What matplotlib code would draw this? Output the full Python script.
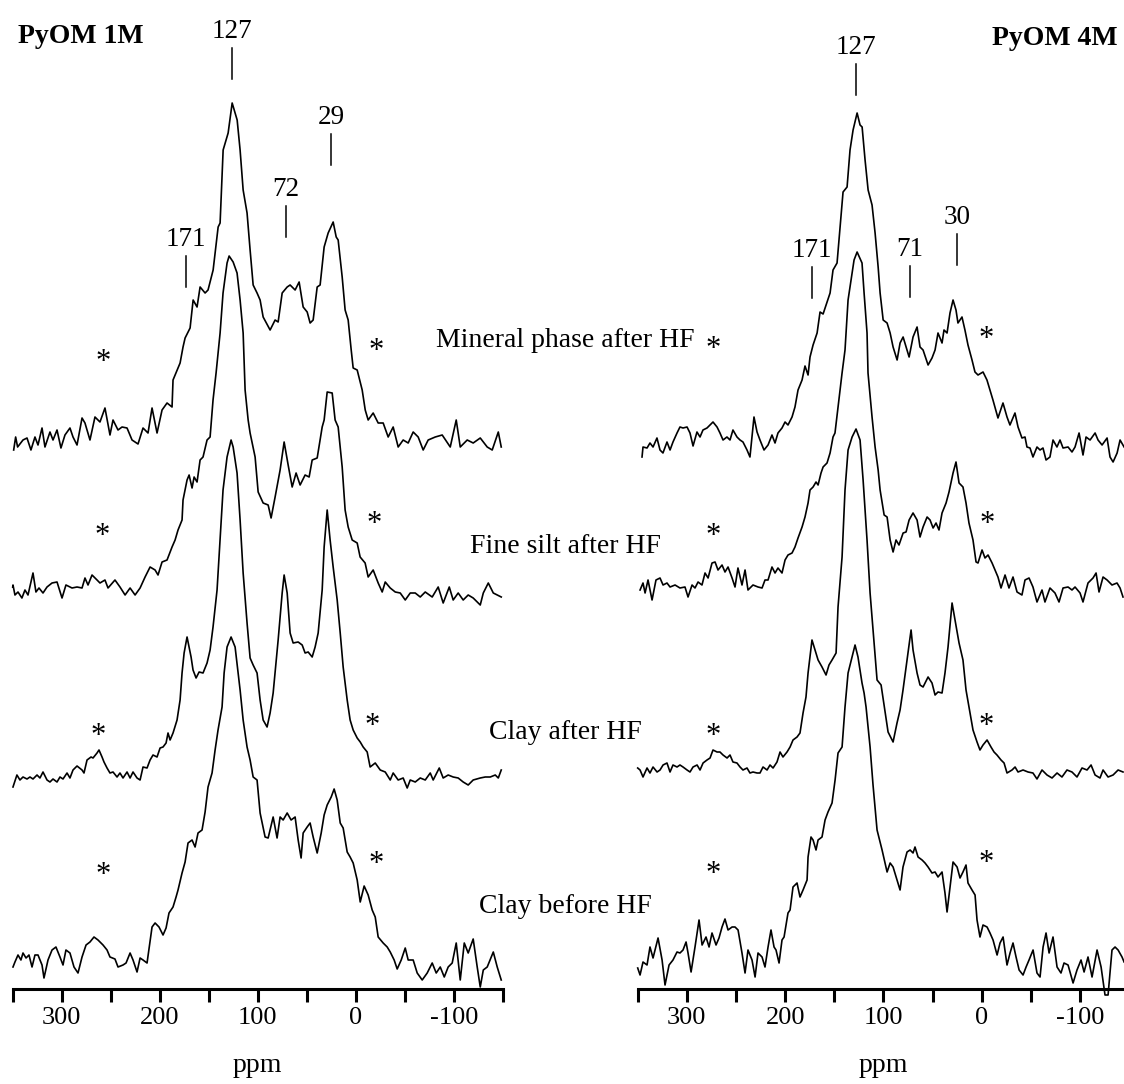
import matplotlib
matplotlib.use("Agg")
import matplotlib.pyplot as plt

plt.rcParams["font.family"] = ["Liberation Serif", "DejaVu Serif"]

# ---- 13C NMR spectra: chemical shift (ppm) and intensity (arbitrary units) ----
# PyOM 1M
ppm_1m_mineral = [349, 347, 345, 339.5, 335.4, 331.4, 327.3, 324.2, 320.1, 317.1, 312, 308.9, 304.8, 300.8, 296.7,
                  291.6, 288.5, 284.4, 279.3, 276.3, 271.2, 266.1, 261, 255.9, 250.8, 247.7, 242.6, 238.5, 233.4,
                  228.3, 222.2, 217.1, 212, 207.9, 202.8, 197.7, 192.6, 187.5, 186.5, 179.3, 176.3, 174.2, 169.1,
                  166, 162, 158.9, 153.8, 150.8, 145.6, 140.5, 138.5, 135.4, 130.3, 126.2, 121.1, 118.1, 115, 111,
                  107.9, 104.8, 100.8, 97.7, 94.6, 87.5, 82.4, 79.3, 75.2, 70.1, 67.1, 62, 57.9, 53.8, 49.7, 46.7,
                  43.6, 39.5, 36.5, 32.4, 28.3, 23.2, 20.1, 18.1, 14, 11, 7.9, 4.8, 2.8, -1.3, -6.4, -9.5, -12.5,
                  -17.6, -22.7, -27.8, -32.9, -38, -43.1, -48.2, -53.3, -58.4, -63.5, -68.6, -73.7, -80.9, -88,
                  -96.2, -102.3, -106.4, -113.5, -119.6, -126.8, -133.9, -139, -145.2, -148.2]
int_1m_mineral = [0, 13, 3, 10, 12, 0, 13, 5, 22, 3, 18, 10, 20, 2, 15, 22, 13, 5, 32, 27, 10, 33, 28, 42, 15, 30,
                  20, 23, 22, 10, 6, 22, 17, 42, 17, 40, 47, 43, 70, 87, 103, 112, 122, 150, 143, 163, 157, 160,
                  180, 223, 227, 300, 317, 347, 330, 300, 260, 237, 200, 165, 157, 150, 133, 120, 130, 128, 157,
                  163, 165, 160, 168, 143, 138, 127, 130, 163, 165, 203, 217, 228, 213, 210, 173, 140, 130, 100,
                  82, 80, 60, 40, 30, 37, 27, 27, 13, 23, 3, 10, 7, 18, 13, 0, 10, 13, 15, 3, 30, 3, 10, 7, 12, 3,
                  0, 18, 3]

ppm_1m_silt = [350, 349.7, 347.7, 344.6, 340.6, 337.5, 334.4, 329.3, 326.3, 323.2, 319.1, 315.0, 309.9, 304.8,
               299.7, 295.7, 289.5, 284.4, 279.3, 276.3, 273.2, 269.1, 264.0, 261.0, 255.9, 252.8, 245.7, 240.6,
               235.4, 230.3, 225.2, 220.1, 215.0, 209.9, 204.8, 201.8, 197.7, 192.6, 187.5, 184.4, 181.4, 177.3,
               176.3, 172.2, 170.1, 167.1, 165.0, 162.0, 158.9, 155.9, 151.8, 148.7, 145.7, 142.6, 138.5, 135.5,
               131.4, 129.3, 125.2, 121.2, 118.1, 115.0, 113.0, 109.9, 107.9, 102.8, 99.7, 94.6, 89.5, 86.5, 82.4,
               77.3, 73.2, 69.1, 65.0, 61.0, 56.9, 51.8, 47.7, 44.6, 39.5, 34.4, 32.4, 29.3, 24.2, 21.2, 18.1,
               14.0, 11.0, 7.9, 3.8, -1.3, -4.3, -9.4, -12.5, -17.6, -22.7, -26.8, -29.9, -35.0, -40.1, -45.2,
               -50.3, -55.4, -60.5, -65.6, -70.7, -77.8, -83.9, -89.0, -95.2, -99.2, -104.3, -109.4, -114.5,
               -119.6, -126.8, -129.9, -135.0, -140.1, -148.2]
int_1m_silt = [13, 15, 5, 8, 2, 10, 5, 27, 8, 12, 7, 13, 17, 18, 2, 15, 12, 13, 12, 22, 15, 25, 20, 17, 20, 12,
               20, 13, 5, 12, 5, 12, 23, 33, 30, 25, 38, 40, 53, 60, 70, 80, 100, 120, 125, 112, 123, 118, 140,
               143, 160, 163, 200, 227, 267, 307, 337, 344, 338, 327, 300, 267, 210, 180, 167, 143, 108, 97, 95,
               82, 103, 130, 158, 135, 113, 127, 115, 125, 123, 140, 142, 173, 180, 208, 207, 180, 173, 133, 90,
               73, 60, 57, 43, 37, 23, 30, 17, 8, 18, 12, 8, 7, 0, 7, 7, 3, 8, 3, 13, -3, 13, 0, 7, 0, 5, 2, -5,
               7, 17, 7, 3]

ppm_1m_clay_hf = [349.7, 345.7, 342.6, 339.5, 335.4, 332.4, 329.3, 325.2, 322.2, 319.1, 315.0, 312.0, 308.9,
                  304.8, 301.8, 298.7, 294.6, 291.6, 288.5, 284.4, 279.3, 277.3, 274.2, 270.1, 268.1, 264.0, 262.0,
                  258.9, 256.9, 253.8, 250.8, 247.7, 243.6, 240.6, 237.5, 233.4, 230.3, 227.3, 223.2, 220.1, 217.1,
                  213.0, 209.9, 206.9, 202.8, 199.7, 196.7, 193.6, 191.6, 189.5, 186.5, 182.4, 179.3, 177.3, 175.2,
                  172.2, 168.1, 166.1, 163.0, 159.9, 155.9, 151.8, 148.7, 145.7, 141.6, 138.5, 135.5, 131.4, 127.3,
                  125.2, 121.2, 118.1, 115.0, 111.0, 107.9, 104.8, 100.8, 97.7, 94.6, 90.6, 87.5, 84.4, 79.3, 75.2,
                  73.2, 70.1, 67.1, 64.0, 58.9, 54.8, 51.8, 48.7, 44.6, 41.6, 38.5, 34.4, 32.4, 29.3, 26.3, 23.2,
                  19.1, 16.0, 13.0, 8.9, 5.9, 2.8, -1.3, -4.4, -7.4, -11.5, -14.5, -19.7, -24.8, -29.9, -35.0,
                  -38.0, -43.1, -48.2, -52.3, -55.4, -60.5, -65.6, -70.7, -75.8, -78.8, -85.0, -89.0, -94.1, -99.2,
                  -104.3, -109.4, -114.5, -119.6, -126.8, -131.9, -137.0, -142.1, -145.2, -148.2]
int_1m_clay_hf = [-2, 10, 5, 8, 6, 8, 6, 10, 7, 13, 5, 3, 6, 3, 8, 6, 12, 7, 15, 19, 15, 12, 25, 28, 27, 32, 35,
                  28, 23, 17, 12, 13, 8, 12, 7, 13, 7, 13, 7, 5, 18, 17, 25, 30, 28, 37, 38, 42, 52, 45, 52, 65,
                  85, 112, 132, 148, 128, 115, 107, 113, 112, 122, 135, 158, 195, 245, 295, 328, 345, 338, 312,
                  265, 212, 162, 127, 120, 112, 85, 65, 58, 72, 92, 145, 192, 210, 192, 152, 142, 143, 140, 132,
                  133, 128, 138, 152, 195, 238, 275, 245, 218, 185, 152, 118, 85, 65, 55, 47, 43, 38, 33, 18, 22,
                  15, 13, 5, 12, 5, 7, -3, 5, 3, 7, 5, 12, 5, 17, 7, 10, 8, 7, 3, 0, 5, 7, 8, 8, 10, 7, 15]

ppm_1m_clay = [349.7, 347.7, 344.6, 341.6, 339.5, 336.4, 333.4, 330.3, 327.3, 324.2, 320.1, 318.1, 314.0, 309.9,
               305.9, 301.8, 298.7, 295.7, 291.6, 287.5, 283.4, 279.3, 275.2, 271.2, 267.1, 263.0, 257.9, 253.8,
               250.8, 245.7, 242.6, 237.5, 234.4, 230.3, 227.3, 223.2, 220.1, 217.1, 213.0, 207.9, 204.8, 200.8,
               196.7, 193.6, 190.6, 186.5, 183.4, 181.4, 177.3, 174.2, 171.2, 167.1, 164.0, 161.0, 156.9, 153.8,
               150.8, 146.7, 143.6, 140.6, 136.5, 134.4, 131.4, 127.3, 123.2, 120.1, 118.1, 115.0, 111.0, 107.9,
               104.8, 100.8, 97.7, 92.6, 89.5, 84.4, 80.4, 77.3, 74.2, 70.1, 66.1, 62.0, 58.9, 55.9, 53.8, 49.7,
               46.7, 43.6, 39.5, 35.4, 32.4, 29.3, 25.2, 22.2, 19.1, 16.0, 13.0, 8.9, 5.9, 2.8, -1.3, -4.4, -8.4,
               -12.5, -16.6, -19.7, -22.7, -27.8, -31.9, -35.0, -39.0, -42.1, -46.2, -50.3, -53.3, -58.4, -62.5,
               -67.6, -72.7, -77.8, -81.9, -86.0, -90.1, -94.1, -98.2, -102.3, -106.4, -110.5, -114.5, -119.6,
               -123.7, -126.8, -129.9, -133.9, -140.1, -144.1, -148.2]
int_1m_clay = [11, 16, 23, 18, 25, 20, 23, 11, 23, 23, 13, 0, 18, 28, 31, 21, 13, 28, 25, 11, 5, 21, 33, 36, 41,
               38, 33, 28, 21, 19, 11, 13, 15, 25, 18, 6, 20, 18, 15, 51, 55, 51, 43, 50, 65, 71, 81, 88, 105, 116,
               135, 138, 131, 145, 148, 166, 191, 205, 228, 248, 271, 305, 331, 341, 331, 305, 288, 258, 231, 218,
               201, 198, 165, 141, 140, 161, 140, 161, 158, 165, 158, 161, 138, 120, 145, 151, 155, 141, 125, 145,
               163, 173, 181, 189, 178, 155, 150, 126, 121, 115, 98, 76, 92, 83, 68, 61, 41, 35, 31, 26, 18, 9, 18,
               30, 18, 18, 5, -2, 5, 15, 5, 11, 1, 11, 15, 35, -2, 35, 25, 39, 11, -9, 8, 11, 26, 11, -2]

# PyOM 4M
ppm_4m_mineral = [345.6, 344.6, 340.5, 337.5, 334.4, 330.4, 327.3, 324.3, 320.2, 317.1, 314.1, 310.0, 307.0,
                  303.9, 299.8, 296.8, 293.7, 289.7, 286.6, 283.6, 279.5, 276.5, 273.4, 269.3, 266.3, 263.2, 259.2,
                  256.1, 253.1, 249.0, 245.9, 242.9, 238.8, 235.8, 233.7, 231.7, 228.6, 225.6, 221.5, 217.4, 213.4,
                  210.3, 207.3, 203.2, 200.1, 197.1, 193.0, 190.0, 186.9, 182.8, 179.8, 176.7, 174.7, 171.6, 167.5,
                  164.5, 161.4, 157.4, 154.3, 151.3, 147.2, 144.1, 141.1, 137.0, 134.0, 130.9, 126.8, 123.8, 121.7,
                  118.7, 115.6, 111.6, 108.5, 105.4, 103.4, 100.3, 96.3, 93.2, 90.2, 86.1, 83.1, 80.0, 77.0, 73.9,
                  69.9, 65.8, 62.8, 59.7, 54.6, 50.6, 47.5, 44.5, 40.4, 38.4, 35.3, 32.3, 29.2, 26.2, 24.2, 20.1,
                  17.1, 14.0, 9.9, 6.9, 3.8, -1.3, -5.3, -8.4, -11.4, -16.5, -21.6, -25.7, -28.7, -33.8, -36.9,
                  -40.9, -44.0, -46.0, -49.1, -52.1, -56.2, -59.3, -62.3, -65.4, -69.4, -72.5, -76.5, -79.6, -82.7,
                  -87.8, -91.8, -94.9, -99.0, -103.0, -106.1, -110.2, -115.3, -118.3, -122.4, -127.5, -130.5,
                  -133.6, -137.7, -140.7, -144.8]
int_4m_mineral = [-2, 8, 7, 12, 8, 17, 5, 2, 13, 5, 13, 22, 28, 27, 28, 22, 9, 23, 18, 25, 27, 30, 33, 28, 22, 15,
                  18, 15, 25, 18, 15, 13, 5, -2, 18, 38, 23, 15, 5, 10, 20, 12, 22, 27, 33, 30, 38, 48, 65, 75, 89,
                  80, 98, 110, 122, 143, 141, 153, 162, 185, 192, 228, 263, 268, 305, 325, 342, 330, 328, 295, 265,
                  250, 222, 188, 162, 135, 132, 122, 108, 95, 112, 118, 108, 98, 118, 128, 108, 105, 90, 97, 105,
                  122, 112, 125, 122, 142, 155, 145, 132, 138, 125, 110, 95, 83, 80, 83, 75, 65, 55, 37, 52, 38, 30,
                  42, 28, 17, 18, 8, 7, -2, 8, 5, 7, -5, -2, 15, 8, 15, 7, 8, 3, 8, 22, 0, 18, 15, 22, 15, 10, 17,
                  -2, -7, 2, 15, 8]

ppm_4m_silt = [347.6, 344.6, 342.5, 339.5, 335.4, 331.4, 327.3, 324.2, 320.2, 317.1, 312.0, 307.0, 301.9, 298.8,
               294.7, 291.7, 288.6, 284.6, 281.5, 278.4, 274.4, 271.3, 268.3, 264.2, 261.2, 258.1, 254.0, 251.0,
               248.0, 243.9, 240.8, 237.8, 232.7, 227.6, 223.5, 220.5, 217.4, 213.4, 210.3, 207.3, 203.2, 200.1,
               197.1, 193.0, 190.0, 186.9, 182.8, 179.8, 176.7, 174.7, 171.6, 168.6, 166.5, 163.5, 161.4, 157.4,
               154.3, 151.3, 149.3, 146.2, 142.1, 139.1, 136.0, 131.9, 129.9, 126.8, 121.8, 119.7, 116.7, 115.7,
               111.6, 108.5, 105.4, 103.4, 99.3, 96.3, 93.2, 90.2, 87.2, 84.2, 80.0, 77.0, 73.9, 69.9, 65.8, 62.8,
               59.7, 55.6, 52.6, 49.5, 46.5, 43.5, 40.4, 36.3, 33.3, 29.2, 26.2, 23.1, 19.1, 16.0, 13.0, 8.9, 5.8,
               3.8, -0.3, -3.3, -6.4, -10.5, -13.5, -16.5, -19.6, -23.7, -27.7, -31.8, -35.9, -40.9, -44.0, -48.1,
               -52.1, -56.2, -61.3, -64.3, -69.4, -74.5, -78.6, -82.7, -87.8, -91.8, -94.9, -100.0, -103.0,
               -108.1, -113.2, -116.3, -119.3, -123.4, -127.5, -132.5, -137.6, -140.7, -143.7]
int_4m_silt = [5, 12, 2, 15, -5, 15, 17, 10, 12, 8, 10, 7, 8, -2, 10, 7, 13, 10, 22, 17, 32, 33, 25, 30, 23, 28,
               17, 8, 27, 10, 25, 5, 10, 8, 7, 15, 15, 28, 22, 27, 22, 35, 40, 42, 48, 57, 68, 78, 92, 105, 108,
               113, 110, 122, 128, 132, 142, 158, 162, 188, 222, 245, 295, 322, 335, 343, 332, 302, 262, 222, 178,
               148, 125, 105, 80, 78, 55, 43, 55, 50, 62, 63, 75, 82, 75, 58, 68, 78, 75, 67, 72, 65, 82, 92, 103,
               122, 133, 112, 108, 92, 72, 55, 33, 32, 45, 37, 40, 32, 25, 18, 7, 20, 7, 18, 3, 0, 15, 17, 8, -7,
               5, -7, 7, 2, -7, 7, 8, 5, 8, 2, -7, 12, 17, 22, 3, 18, 15, 10, 12, 7, -2]

ppm_4m_clay_hf = [350, 347.6, 344.6, 340.5, 337.5, 334.4, 330.3, 327.3, 324.2, 320.2, 317.1, 314.1, 310.0, 307.0,
                  303.9, 299.8, 296.8, 293.7, 289.6, 286.6, 283.5, 279.5, 276.4, 273.4, 269.3, 266.3, 263.2, 259.1,
                  256.1, 253.1, 249.0, 245.9, 242.9, 238.8, 235.8, 232.7, 228.6, 225.6, 222.5, 218.4, 215.4, 212.3,
                  208.3, 205.2, 202.2, 198.1, 195.0, 192.0, 187.9, 184.9, 181.8, 178.8, 176.7, 172.7, 169.6, 166.5,
                  162.5, 158.4, 155.4, 152.3, 148.2, 146.2, 142.1, 139.1, 136.0, 131.9, 127.9, 123.8, 120.7, 116.7,
                  113.6, 110.6, 106.5, 102.4, 99.4, 95.3, 90.2, 86.2, 83.1, 80.1, 76.0, 71.9, 69.9, 65.8, 62.8,
                  59.7, 54.6, 50.6, 47.5, 44.5, 40.4, 37.4, 34.3, 30.2, 27.2, 23.1, 19.1, 16.0, 11.9, 8.9, 4.8, 1.8,
                  -1.3, -5.4, -9.4, -12.5, -15.5, -19.6, -22.7, -25.7, -30.8, -33.9, -36.9, -42.0, -47.1, -52.1,
                  -56.2, -61.3, -66.4, -71.5, -76.6, -81.6, -86.7, -91.8, -96.9, -102.0, -107.1, -111.2, -115.3,
                  -120.3, -123.4, -128.5, -133.6, -138.7, -143.7]
int_4m_clay_hf = [7, 5, -2, 7, 2, 8, 3, 5, 10, 12, 3, 10, 8, 10, 8, 5, 3, 8, 10, 5, 12, 15, 17, 25, 23, 23, 20,
                  17, 20, 13, 12, 8, 5, 7, 2, 3, 2, 2, 8, 5, 10, 7, 13, 23, 18, 23, 28, 35, 38, 42, 62, 78, 102,
                  135, 125, 115, 108, 100, 110, 115, 122, 168, 218, 285, 325, 338, 346, 335, 295, 235, 182, 145, 95,
                  90, 70, 43, 33, 52, 65, 85, 115, 145, 125, 102, 90, 88, 98, 92, 80, 83, 82, 102, 128, 172, 155,
                  132, 115, 85, 62, 45, 33, 25, 30, 35, 28, 23, 20, 15, 12, 2, 5, 8, 3, 5, 3, 2, -4, 5, 0, -3, 2, -2,
                  5, 3, -2, 7, 5, 10, 0, -3, 5, -2, 0, 5, 3]

ppm_4m_clay = [350, 347.6, 344.6, 340.5, 337.5, 334.4, 329.3, 325.2, 322.2, 318.1, 314.1, 310.0, 307.0, 303.9,
               300.8, 298.8, 295.7, 291.7, 287.6, 284.5, 280.5, 277.4, 274.4, 270.3, 267.3, 264.2, 261.2, 258.1,
               254.0, 251.0, 247.9, 243.9, 240.8, 237.8, 233.7, 230.6, 227.6, 223.5, 220.5, 217.4, 214.4, 211.3,
               209.3, 206.2, 203.2, 201.1, 197.1, 195.0, 192.0, 187.9, 184.9, 181.8, 177.7, 176.7, 173.7, 171.6,
               168.6, 166.5, 162.5, 159.4, 156.4, 152.3, 149.2, 146.2, 142.1, 139.1, 136.0, 131.9, 128.9, 125.9,
               121.8, 119.7, 117.7, 113.6, 110.6, 106.5, 101.4, 96.3, 93.2, 90.2, 86.2, 83.1, 80.1, 76.0, 72.9,
               69.9, 67.9, 64.8, 60.7, 57.7, 54.6, 50.6, 47.5, 44.5, 40.4, 37.4, 35.3, 32.3, 29.2, 25.1, 22.1,
               19.1, 16.0, 14.0, 9.9, 6.8, 4.8, 1.8, -1.3, -5.4, -8.4, -11.5, -15.6, -18.6, -21.7, -25.7, -28.8,
               -31.8, -34.9, -38.0, -42.0, -45.1, -48.1, -52.2, -56.2, -59.3, -62.4, -65.4, -68.5, -72.5, -76.6,
               -80.6, -83.7, -87.8, -92.9, -96.9, -101.0, -104.1, -108.1, -112.2, -117.3, -121.4, -125.4, -128.5,
               -132.5, -135.6, -138.7, -142.7, -144.8]
int_4m_clay = [7, 0, 13, 10, 28, 17, 37, 15, -10, 10, 15, 23, 22, 25, 33, 22, 3, 28, 55, 30, 38, 28, 42, 30, 37,
               48, 56, 45, 48, 48, 45, 22, 2, 25, 15, -2, 22, 18, 8, 28, 45, 28, 25, 12, 35, 38, 62, 65, 88, 92,
               78, 85, 95, 118, 138, 135, 125, 135, 138, 155, 163, 172, 195, 222, 228, 268, 302, 318, 330, 318,
               292, 282, 268, 228, 190, 145, 125, 103, 112, 108, 95, 85, 108, 123, 125, 122, 128, 118, 115, 112,
               108, 102, 103, 98, 103, 82, 63, 88, 113, 108, 97, 103, 110, 92, 85, 80, 55, 38, 50, 48, 42, 35, 20,
               32, 38, 10, 22, 32, 18, 5, 0, 8, 15, 25, 2, -2, 28, 42, 22, 38, 8, 2, 12, 10, -8, 5, 15, 3, 18, -2,
               25, 8, -20, -20, 25, 28, 25, 18, 13]

sample_labels = ["Mineral phase after HF", "Fine silt after HF", "Clay after HF", "Clay before HF"]
panel_titles = ["PyOM 1M", "PyOM 4M"]
tick_labels = {300: "300", 200: "200", 100: "100", 0: "0", -100: "-100"}
peaks_1m = ["127", "171", "72", "29"]
peaks_4m = ["127", "171", "71", "30"]

# ---- layout (canvas pixels, 1 data unit = 1 px vertically) ----
W, H = 1124, 1084
AX_H = 989
offsets_1m = [539, 389, 204, 11]
offsets_4m = [534, 394, 214, 14]
peak_pos_1m = [(126.2, 910), (173.2, 702), (71.1, 752), (25.2, 824)]
peak_pos_4m = [(127.9, 894), (172.6, 691), (72.9, 692), (25.1, 724)]
stars_1m = [(257.9, 633), (-20.7, 644), (258.9, 459), (-18.7, 471),
            (263, 259), (-16.6, 269), (257.9, 120), (-20.7, 131)]
stars_4m = [(273.4, 646), (-4.4, 656), (273.4, 459), (-5.4, 471),
            (273.4, 259), (-4.4, 269), (273.4, 121), (-4.4, 132)]
label_baselines = [347, 553, 739, 913]

fig = plt.figure(figsize=(W / 100, H / 100), dpi=100)


def draw_panel(left_px, width_px, spectra, offsets, peaks, peak_pos, stars):
    ax = fig.add_axes([left_px / W, (H - AX_H) / H, width_px / W, AX_H / H])
    for (x, y), off in zip(spectra, offsets):
        ax.plot(x, [v + off for v in y], color="black", lw=1.2, clip_on=False)
    ax.set_xlim(350, -150)
    ax.set_ylim(0, AX_H)
    ticks = list(range(350, -151, -50))
    ax.set_xticks(ticks)
    ax.set_xticklabels([tick_labels.get(t, "") for t in ticks])
    ax.set_yticks([])
    for s in ("left", "right", "top"):
        ax.spines[s].set_visible(False)
    ax.spines["bottom"].set_linewidth(2.2)
    ax.tick_params(axis="x", direction="out", length=9, width=2.2, pad=4, labelsize=19)
    ax.patch.set_visible(False)

    for lab, (p, y0) in zip(peaks, peak_pos):
        ax.plot([p, p], [y0, y0 + 31], color="black", lw=1.1)
        ax.text(p, y0 + 41, lab, ha="center", va="baseline", fontsize=19.5)
    for p, yc in stars:
        ax.text(p, yc - 14, "*", ha="center", va="baseline", fontsize=22)
    ax.text(100, -83, "ppm", ha="center", va="baseline", fontsize=20, clip_on=False)
    return ax


draw_panel(12.7, 490.3,
           [(ppm_1m_mineral, int_1m_mineral), (ppm_1m_silt, int_1m_silt),
            (ppm_1m_clay_hf, int_1m_clay_hf), (ppm_1m_clay, int_1m_clay)],
           offsets_1m, peaks_1m, peak_pos_1m, stars_1m)
draw_panel(637.7, 491.5,
           [(ppm_4m_mineral, int_4m_mineral), (ppm_4m_silt, int_4m_silt),
            (ppm_4m_clay_hf, int_4m_clay_hf), (ppm_4m_clay, int_4m_clay)],
           offsets_4m, peaks_4m, peak_pos_4m, stars_4m)

for lab, b in zip(sample_labels, label_baselines):
    fig.text(565 / W, 1 - b / H, lab, ha="center", va="baseline", fontsize=20)

fig.text(18 / W, 1 - 43 / H, panel_titles[0], ha="left", va="baseline", fontsize=20, fontweight="bold")
fig.text(1118 / W, 1 - 45 / H, panel_titles[1], ha="right", va="baseline", fontsize=20, fontweight="bold")

fig.savefig("out.png", dpi=100)
